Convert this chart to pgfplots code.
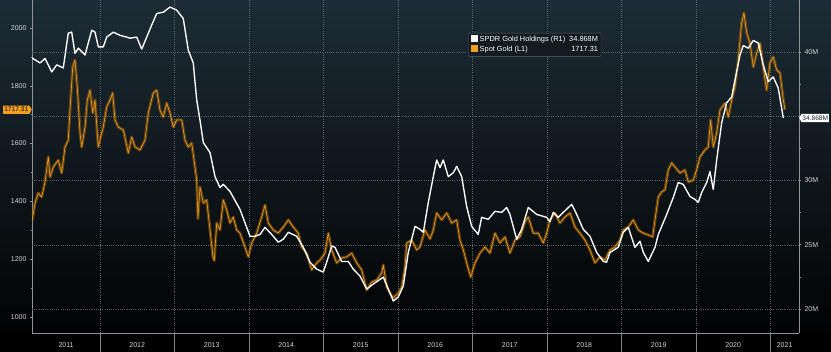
\documentclass[border=0pt]{standalone}
\usepackage{pgfplots}
\usepackage{pgfplotstable}
\pgfplotsset{compat=1.18}
\usetikzlibrary{shapes.symbols}
\usepackage{fontspec}
\setmainfont{Liberation Sans}
\definecolor{bgtop}{HTML}{1D2C36}
\definecolor{bgmid}{HTML}{0E181E}
\definecolor{gridc}{HTML}{5E676C}
\definecolor{axc}{HTML}{8F969A}
\definecolor{tickc}{HTML}{D2D6D9}
\definecolor{gold}{HTML}{F2A01C}
\definecolor{golddark}{HTML}{9A600E}
\definecolor{legbg}{HTML}{121A1F}

\pgfplotstableread{
year value
2011.090 1336
2011.128 1394
2011.172 1429
2011.217 1415
2011.262 1467
2011.306 1554
2011.329 1484
2011.373 1519
2011.440 1543
2011.486 1498
2011.530 1588
2011.574 1612
2011.597 1716
2011.634 1865
2011.664 1889
2011.695 1796
2011.732 1637
2011.754 1588
2011.799 1657
2011.830 1751
2011.866 1785
2011.902 1706
2011.933 1751
2011.977 1588
2012.009 1623
2012.044 1657
2012.090 1727
2012.134 1751
2012.170 1775
2012.201 1682
2012.246 1657
2012.313 1647
2012.380 1567
2012.426 1623
2012.470 1588
2012.537 1578
2012.604 1612
2012.648 1706
2012.715 1775
2012.761 1785
2012.805 1716
2012.850 1692
2012.895 1740
2012.940 1706
2012.984 1657
2013.030 1682
2013.097 1682
2013.141 1612
2013.185 1588
2013.231 1602
2013.275 1519
2013.298 1474
2013.315 1340
2013.342 1450
2013.387 1394
2013.432 1405
2013.477 1301
2013.515 1210
2013.533 1195
2013.567 1325
2013.611 1301
2013.655 1405
2013.701 1370
2013.745 1325
2013.789 1346
2013.835 1301
2013.879 1290
2013.946 1242
2013.991 1208
2014.036 1256
2014.103 1290
2014.170 1346
2014.215 1388
2014.259 1325
2014.326 1301
2014.393 1290
2014.460 1311
2014.528 1336
2014.595 1311
2014.662 1290
2014.707 1242
2014.774 1221
2014.842 1163
2014.909 1187
2014.953 1197
2015.020 1221
2015.064 1290
2015.110 1232
2015.177 1187
2015.244 1204
2015.311 1208
2015.379 1221
2015.446 1187
2015.513 1163
2015.580 1093
2015.647 1121
2015.714 1128
2015.781 1152
2015.803 1180
2015.848 1104
2015.893 1083
2015.937 1066
2016.004 1083
2016.050 1104
2016.094 1173
2016.117 1256
2016.184 1266
2016.251 1232
2016.295 1242
2016.362 1301
2016.430 1270
2016.474 1301
2016.519 1360
2016.587 1336
2016.654 1360
2016.721 1325
2016.788 1336
2016.832 1266
2016.877 1232
2016.922 1187
2016.976 1138
2017.034 1187
2017.101 1221
2017.168 1242
2017.235 1221
2017.302 1290
2017.369 1256
2017.436 1277
2017.503 1221
2017.570 1266
2017.638 1277
2017.705 1329
2017.749 1346
2017.816 1290
2017.883 1290
2017.950 1256
2017.996 1290
2018.040 1336
2018.107 1360
2018.174 1325
2018.242 1346
2018.309 1360
2018.376 1311
2018.443 1290
2018.510 1266
2018.577 1232
2018.644 1187
2018.711 1208
2018.779 1197
2018.846 1232
2018.913 1242
2018.980 1266
2019.024 1301
2019.091 1311
2019.158 1336
2019.226 1301
2019.293 1290
2019.360 1284
2019.419 1277
2019.450 1336
2019.494 1415
2019.540 1433
2019.584 1440
2019.628 1509
2019.674 1533
2019.718 1519
2019.785 1498
2019.852 1509
2019.897 1467
2019.964 1474
2020.009 1509
2020.054 1554
2020.121 1578
2020.165 1588
2020.197 1682
2020.232 1588
2020.278 1637
2020.322 1716
2020.389 1740
2020.434 1692
2020.479 1751
2020.523 1796
2020.567 1889
2020.613 2017
2020.644 2052
2020.681 1983
2020.725 1948
2020.769 1865
2020.815 1913
2020.859 1948
2020.903 1865
2020.948 1785
2020.993 1879
2021.037 1900
2021.083 1855
2021.128 1844
2021.172 1751
2021.195 1717.31
}\spotgold

\pgfplotstableread{
year value
2011.090 39.53
2011.195 39.15
2011.262 39.50
2011.352 38.45
2011.419 39.00
2011.507 38.76
2011.574 41.47
2011.620 41.55
2011.664 39.90
2011.709 40.30
2011.799 39.77
2011.889 41.70
2011.933 41.55
2011.977 40.40
2012.044 40.40
2012.090 41.16
2012.179 41.55
2012.268 41.30
2012.358 41.16
2012.403 41.08
2012.493 41.16
2012.560 40.23
2012.627 41.16
2012.694 42.10
2012.761 43.00
2012.850 43.10
2012.940 43.50
2013.030 43.26
2013.118 42.60
2013.185 40.15
2013.252 39.15
2013.298 36.28
2013.342 34.70
2013.387 32.95
2013.477 32.17
2013.544 30.30
2013.611 29.45
2013.655 29.70
2013.745 29.15
2013.879 27.75
2014.013 25.66
2014.081 25.66
2014.148 25.80
2014.215 26.35
2014.305 25.80
2014.393 25.20
2014.460 25.43
2014.528 25.97
2014.640 25.66
2014.729 24.80
2014.819 23.64
2014.909 23.10
2014.997 22.87
2015.043 23.64
2015.110 24.90
2015.154 24.80
2015.244 23.70
2015.333 23.70
2015.400 23.10
2015.490 22.56
2015.580 21.55
2015.668 21.94
2015.803 22.48
2015.870 21.55
2015.937 20.62
2016.004 20.93
2016.071 21.78
2016.138 24.40
2016.228 26.43
2016.295 26.20
2016.340 25.97
2016.407 28.30
2016.474 30.30
2016.519 31.60
2016.564 31.00
2016.608 31.60
2016.675 30.30
2016.742 30.60
2016.788 31.10
2016.855 30.30
2016.922 27.98
2016.989 26.43
2017.077 25.80
2017.123 27.13
2017.212 26.98
2017.302 27.60
2017.392 27.52
2017.459 27.90
2017.503 27.36
2017.593 25.43
2017.660 26.20
2017.749 27.90
2017.862 27.36
2017.996 27.13
2018.040 26.80
2018.085 27.52
2018.152 27.13
2018.219 27.52
2018.332 28.14
2018.399 27.36
2018.487 26.20
2018.577 25.66
2018.667 24.40
2018.756 23.70
2018.800 23.64
2018.846 24.40
2018.957 24.80
2019.024 25.97
2019.091 26.35
2019.181 24.80
2019.248 25.27
2019.293 24.40
2019.360 23.70
2019.450 24.80
2019.494 25.80
2019.607 27.36
2019.695 28.68
2019.762 29.84
2019.829 29.70
2019.919 28.76
2019.987 28.53
2020.031 28.30
2020.077 29.07
2020.144 29.84
2020.188 30.70
2020.232 29.30
2020.278 31.60
2020.345 34.50
2020.412 36.05
2020.479 36.50
2020.523 37.80
2020.591 39.77
2020.635 40.50
2020.702 40.30
2020.769 40.90
2020.836 40.70
2020.903 39.00
2020.970 37.70
2021.037 38.06
2021.104 37.20
2021.172 34.868
}\spdr

\pgfplotsset{
  myaxis/.style={
    at={(32pt,19pt)}, anchor=south west, scale only axis,
    width=767pt, height=333pt,
    xmin=2011.0872, xmax=2021.383,
    tick align=outside,
    major tick length=2pt, minor tick length=1.5pt,
    axis line style={axc, line width=0.6pt, -},
    every tick/.style={axc, line width=0.5pt},
    tick label style={font=\fontsize{7}{8}\selectfont, color=tickc},
  },
}

\begin{document}
\begin{tikzpicture}
\shade[top color=bgtop, middle color=bgmid, bottom color=black] (0pt,0pt) rectangle (831pt,352pt);
\fill[black] (0pt,0pt) rectangle (831pt,19pt);
\useasboundingbox (0pt,0pt) rectangle (831pt,352pt);

% left axis: spot gold
\begin{axis}[myaxis,
  ymin=944.6, ymax=2096.9,
  axis x line*=bottom, axis y line*=left,
  xtick={2012,2013,2014,2015,2016,2017,2018,2019,2020,2021},
  xticklabels={},
  minor x tick num=3,
  xmajorgrids,
  grid style={gridc, line width=0.45pt, dash pattern=on 1pt off 1.2pt},
  ytick={1000,1200,1400,1600,1800,2000},
  yticklabels={1000,1200,1400,1600,1800,2000},
  minor y tick num=1,
  extra x ticks={2011.544,2012.5,2013.5,2014.5,2015.5,2016.5,2017.5,2018.5,2019.5,2020.5,2021.19},
  extra x tick labels={2011,2012,2013,2014,2015,2016,2017,2018,2019,2020,2021},
  extra x tick style={grid=none, major tick length=0pt, tick label style={yshift=-6.5pt}},
  extra y ticks={1027.7,1250.0,1472.3,1694.6,1916.9},
  extra y tick labels={},
  extra y tick style={grid=major, major tick length=0pt},
]
\addplot[golddark, line width=3pt, opacity=0.55, line join=round] table[x=year,y=value] {\spotgold};
\addplot[gold!85!golddark, line width=0.7pt, line join=round] table[x=year,y=value] {\spotgold};
\coordinate (tagL) at (axis cs:2011.0872,1717.31);
\pgfplotsinvokeforeach{2012,2013,2014,2015,2016,2017,2018,2019,2020,2021}{
  \coordinate (sep#1) at (axis cs:#1,944.6);
}
\end{axis}

% right axis: SPDR holdings
\begin{axis}[myaxis,
  ymin=18.13, ymax=44.05,
  axis x line=none, axis y line*=right,
  ytick={20,25,30,35,40},
  yticklabels={20M,25M,30M,,40M},
  minor y tick num=1,
]
\addplot[white, line width=1.35pt, line join=round] table[x=year,y=value] {\spdr};
\coordinate (tagR) at (axis cs:2021.383,34.868);
\end{axis}

\foreach \y in {2012,2013,2014,2015,2016,2017,2018,2019,2020,2021}{
  \draw[gridc!80, line width=0.5pt] (sep\y) -- ++(0pt,-19pt);
}

\node[shape=signal, signal to=east, signal pointer angle=120, fill=gold, text=black,
      font=\fontsize{6.6}{7}\selectfont, inner xsep=1.2pt, inner ysep=1.8pt, anchor=east] at (tagL) {1717.31};
\node[shape=signal, signal to=west, signal pointer angle=120, fill=white, text=black!85,
      font=\fontsize{6.6}{7}\selectfont, inner xsep=0.8pt, inner ysep=1.8pt, anchor=west] at (tagR) {34.868M};

% legend
\node[draw=gridc, fill=legbg, fill opacity=0.9, text opacity=1, rounded corners=1pt,
      inner xsep=3pt, inner ysep=2pt, anchor=north west, text=white,
      font=\fontsize{7.4}{9.6}\selectfont] at (468pt,319pt) {%
  \begin{tabular}{@{}l@{\hspace{4pt}}r@{}}
  {\color{white}\rule{6.5pt}{6.5pt}}\hspace{2pt}SPDR Gold Holdings (R1) & 34.868M\\
  {\color{gold}\rule{6.5pt}{6.5pt}}\hspace{2pt}Spot Gold (L1) & 1717.31
  \end{tabular}};
\end{tikzpicture}
\end{document}
